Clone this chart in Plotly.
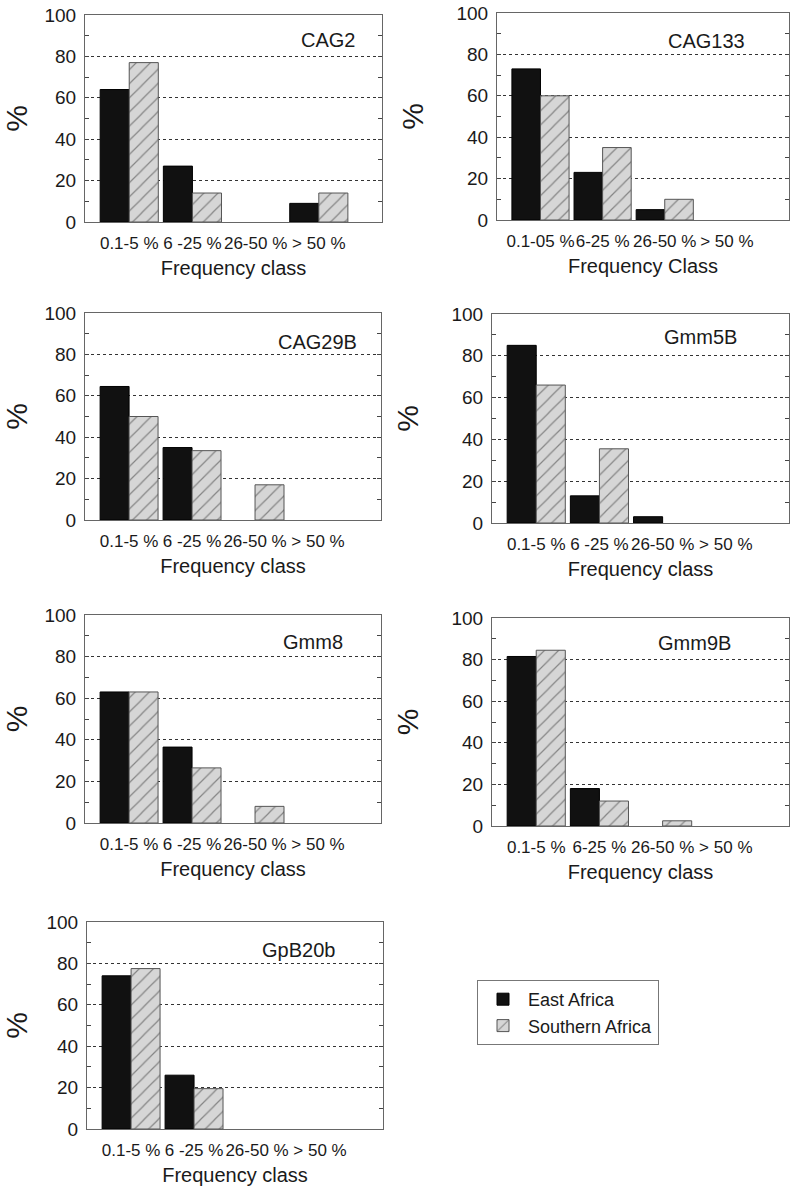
import plotly.graph_objects as go

# ---------------- data ----------------
series_names = ["East Africa", "Southern Africa"]

cats_cag2 = ["0.1-5 %", "6 -25 %", "26-50 %", "> 50 %"]
cats_cag133 = ["0.1-05 %", "6-25 %", "26-50 %", "> 50 %"]
cats_cag29b = ["0.1-5 %", "6 -25 %", "26-50 %", "> 50 %"]
cats_gmm5b = ["0.1-5 %", "6 -25 %", "26-50 %", "> 50 %"]
cats_gmm8 = ["0.1-5 %", "6 -25 %", "26-50 %", "> 50 %"]
cats_gmm9b = ["0.1-5 %", "6-25 %", "26-50 %", "> 50 %"]
cats_gpb20b = ["0.1-5 %", "6 -25 %", "26-50 %", "> 50 %"]

east_cag2 = [64, 27, 0, 9]
south_cag2 = [77, 14, 0, 14]
east_cag133 = [73, 23, 5, 0]
south_cag133 = [60, 35, 10, 0]
east_cag29b = [64.5, 35, 0, 0]
south_cag29b = [50, 33.5, 17, 0]
east_gmm5b = [85, 13, 3, 0]
south_gmm5b = [66, 35.5, 0, 0]
east_gmm8 = [63, 36.5, 0, 0]
south_gmm8 = [63, 26.5, 8, 0]
east_gmm9b = [81.5, 18, 0, 0]
south_gmm9b = [84.5, 12, 2.5, 0]
east_gpb20b = [74, 26, 0, 0]
south_gpb20b = [77.5, 19.5, 0, 0]

panel_names = ["CAG2", "CAG133", "CAG29B", "Gmm5B", "Gmm8", "Gmm9B", "GpB20b"]
x_titles = ["Frequency class", "Frequency Class", "Frequency class", "Frequency class",
            "Frequency class", "Frequency class", "Frequency class"]
y_title = "%"

panel_cats = [cats_cag2, cats_cag133, cats_cag29b, cats_gmm5b, cats_gmm8, cats_gmm9b, cats_gpb20b]
panel_east = [east_cag2, east_cag133, east_cag29b, east_gmm5b, east_gmm8, east_gmm9b, east_gpb20b]
panel_south = [south_cag2, south_cag133, south_cag29b, south_gmm5b, south_gmm8, south_gmm9b, south_gpb20b]

# ---------------- layout geometry (window pixels) ----------------
W, H = 800, 1195
boxes = [(85, 382, 15, 222), (497, 789, 13, 220),
         (85, 381, 313, 520), (492, 789, 314, 523),
         (85, 381, 615, 823), (492, 789, 618, 826),
         (87, 383, 922, 1129)]
label_pos = [(0.915, 0.88), (0.855, 0.865), (0.925, 0.86), (0.83, 0.89),
             (0.878, 0.87), (0.81, 0.88), (0.845, 0.865)]


def px_x(p):
    return p / W


def px_y(p):
    return 1 - p / H


FONT = "Liberation Sans, Arial, Helvetica, sans-serif"
TXT = "#1a1a1a"

fig = go.Figure()
layout = dict(
    width=W, height=H, margin=dict(l=0, r=0, t=0, b=0),
    paper_bgcolor="white", plot_bgcolor="white",
    font=dict(family=FONT, color=TXT),
    barmode="group", bargap=0.08, bargroupgap=0.0,
    showlegend=True,
)
annotations = []

for i in range(7):
    n = "" if i == 0 else str(i + 1)
    xa, ya = "x" + n, "y" + n
    x0, x1, yt, yb = boxes[i]
    cats = panel_cats[i]
    ev, sv = panel_east[i], panel_south[i]
    fig.add_trace(go.Bar(
        x=cats, y=ev, name=series_names[0],
        xaxis=xa, yaxis=ya, legendgroup="e", showlegend=(i == 0),
        marker=dict(color="#111111",
                    line=dict(color="#000000", width=[1 if v > 0 else 0 for v in ev])),
    ))
    fig.add_trace(go.Bar(
        x=cats, y=sv, name=series_names[1],
        xaxis=xa, yaxis=ya, legendgroup="s", showlegend=(i == 0),
        marker=dict(color="#d6d6d6",
                    line=dict(color="#555555", width=[1 if v > 0 else 0 for v in sv]),
                    pattern=dict(shape="/", fgcolor="#333333", bgcolor="#d6d6d6",
                                 size=10, solidity=0.12)),
    ))
    layout["xaxis" + n] = dict(
        domain=[px_x(x0), px_x(x1)], anchor=ya, type="category",
        categoryorder="array", categoryarray=cats,
        tickmode="array", tickvals=cats, ticktext=cats,
        range=[-0.7, 4.0], tickangle=0,
        showline=True, linecolor="#666666", linewidth=1, mirror=True,
        ticks="outside", ticklen=6, tickcolor="rgba(0,0,0,0)",
        showgrid=False, zeroline=False, automargin=False,
        tickfont=dict(size=17, family=FONT, color=TXT),
        title=dict(text=x_titles[i], standoff=8,
                   font=dict(size=20, family=FONT, color=TXT)),
    )
    layout["yaxis" + n] = dict(
        domain=[px_y(yb), px_y(yt)], anchor=xa,
        range=[0, 100], tickmode="linear", tick0=0, dtick=20,
        showline=True, linecolor="#666666", linewidth=1, mirror="ticks",
        ticks="inside", ticklen=4, tickcolor="#444444",
        minor=dict(dtick=10, ticks="inside", ticklen=4, tickcolor="#444444", showgrid=False),
        showgrid=True, gridcolor="#333333", griddash="dot", gridwidth=1,
        zeroline=False, automargin=False, ticklabelstandoff=4,
        tickfont=dict(size=19, family=FONT, color=TXT),
        title=dict(text=y_title, standoff=23,
                   font=dict(size=30, family=FONT, color=TXT)),
    )
    lx, ly = label_pos[i]
    annotations.append(dict(
        text=panel_names[i], xref=xa + " domain", yref=ya + " domain",
        x=lx, y=ly, xanchor="right", yanchor="middle", showarrow=False,
        font=dict(size=20, family=FONT, color=TXT),
    ))

layout["annotations"] = annotations
layout["legend"] = dict(
    x=px_x(477), y=px_y(980), xanchor="left", yanchor="top",
    bgcolor="white", bordercolor="#777777", borderwidth=1,
    font=dict(size=18, family=FONT, color=TXT),
    itemwidth=40, tracegroupgap=0,
)
fig.update_layout(**layout)
fig.write_html("out.html", config={"displayModeBar": False},
               post_script="document.body.style.margin='0';")
